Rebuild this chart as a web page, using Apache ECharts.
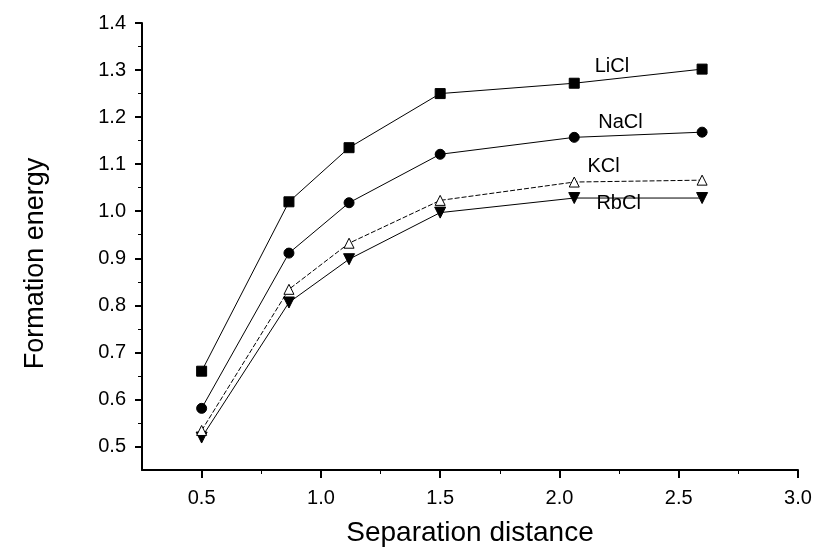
<!DOCTYPE html>
<html>
<head>
<meta charset="utf-8">
<script src="https://cdn.jsdelivr.net/npm/echarts@6/dist/echarts.min.js"></script>
<style>html,body{margin:0;padding:0;background:#fff}#c{width:817px;height:555px}</style>
</head>
<body>
<div id="c"></div>
<script>
// ---- data ----
var distances = [0.5, 0.866, 1.118, 1.5, 2.062, 2.598];
var seriesNames = ['LiCl', 'NaCl', 'KCl', 'RbCl'];
var liCl = [0.66, 1.02, 1.135, 1.25, 1.272, 1.302];
var naCl = [0.581, 0.911, 1.018, 1.121, 1.157, 1.168];
var kCl  = [0.534, 0.834, 0.932, 1.023, 1.062, 1.066];
var rbCl = [0.519, 0.806, 0.898, 0.997, 1.028, 1.028];
var xTicks = [0.5, 1.0, 1.5, 2.0, 2.5, 3.0];
var xMinorTicks = [0.75, 1.25, 1.75, 2.25, 2.75];
var yTicks = [0.5, 0.6, 0.7, 0.8, 0.9, 1.0, 1.1, 1.2, 1.3, 1.4];
var yMinorTicks = [0.55, 0.65, 0.75, 0.85, 0.95, 1.05, 1.15, 1.25, 1.35];

var FONT = '"Liberation Sans", Arial, sans-serif';
function pairs(vals){ return distances.map(function(d,i){ return [d, vals[i]]; }); }
var allVals = [liCl, naCl, kCl, rbCl];
var symbols = ['rect', 'circle', 'triangle', 'path://M0,0 L10,0 L5,10 Z'];
var fills = ['#000', '#000', '#fff', '#000'];
var sizes = [10, 10, 10, 11];
var dashes = ['solid', 'solid', [5, 2], 'solid'];
var labelAnchors = [[2.22, 1.308], [2.256, 1.189], [2.185, 1.094], [2.248, 1.017]];

var series = seriesNames.map(function(n, i){
  return {
    name: n, type: 'line', xAxisIndex: 0, yAxisIndex: 0,
    data: pairs(allVals[i]),
    symbol: symbols[i], symbolSize: sizes[i], showAllSymbol: true,
    itemStyle: { color: fills[i], borderColor: '#000', borderWidth: 1 },
    lineStyle: { color: '#000', width: 1, type: dashes[i] },
    z: 10 - i,
    animation: false,
    markPoint: {
      symbol: 'circle', symbolSize: 1,
      itemStyle: { color: 'rgba(0,0,0,0)' },
      label: { show: true, position: 'inside', formatter: n, color: '#000', fontSize: 20, fontFamily: FONT },
      data: [{ coord: labelAnchors[i] }],
      animation: false
    }
  };
});

var chart = echarts.init(document.getElementById('c'));
chart.setOption({
  backgroundColor: '#fff',
  animation: false,
  grid: { left: 142, top: 23, width: 656, height: 447, containLabel: false },
  xAxis: [{
    type: 'value', min: 0.25, max: 3.0, position: 'bottom',
    name: 'Separation distance', nameLocation: 'middle', nameGap: 49,
    nameTextStyle: { fontSize: 28, fontFamily: FONT, color: '#000' },
    axisLine: { show: true, lineStyle: { color: '#000', width: 2 } },
    axisTick: { show: true, inside: false, length: 8, customValues: xTicks, lineStyle: { color: '#000', width: 2 } },
    axisLabel: { show: true, customValues: xTicks, margin: 18, fontSize: 20, fontFamily: FONT, color: '#000',
      formatter: function(v){ return v.toFixed(1); } },
    splitLine: { show: false }
  }, {
    type: 'value', min: 0.25, max: 3.0, position: 'bottom',
    axisLine: { show: false },
    axisTick: { show: true, inside: false, length: 4, customValues: xMinorTicks, lineStyle: { color: '#000', width: 1 } },
    axisLabel: { show: false },
    splitLine: { show: false }
  }],
  yAxis: [{
    type: 'value', min: 0.45, max: 1.4, position: 'left',
    name: 'Formation energy', nameLocation: 'middle', nameGap: 93,
    nameTextStyle: { fontSize: 27, fontFamily: FONT, color: '#000', padding: [0, 34, 0, 0] },
    axisLine: { show: true, lineStyle: { color: '#000', width: 2 } },
    axisTick: { show: true, inside: false, length: 7, customValues: yTicks, lineStyle: { color: '#000', width: 2 } },
    axisLabel: { show: true, customValues: yTicks, margin: 16, fontSize: 20, fontFamily: FONT, color: '#000',
      formatter: function(v){ return v.toFixed(1); } },
    splitLine: { show: false }
  }, {
    type: 'value', min: 0.45, max: 1.4, position: 'left',
    axisLine: { show: false },
    axisTick: { show: true, inside: false, length: 4, customValues: yMinorTicks, lineStyle: { color: '#000', width: 1 } },
    axisLabel: { show: false },
    splitLine: { show: false }
  }],
  series: series
});
</script>
</body>
</html>
